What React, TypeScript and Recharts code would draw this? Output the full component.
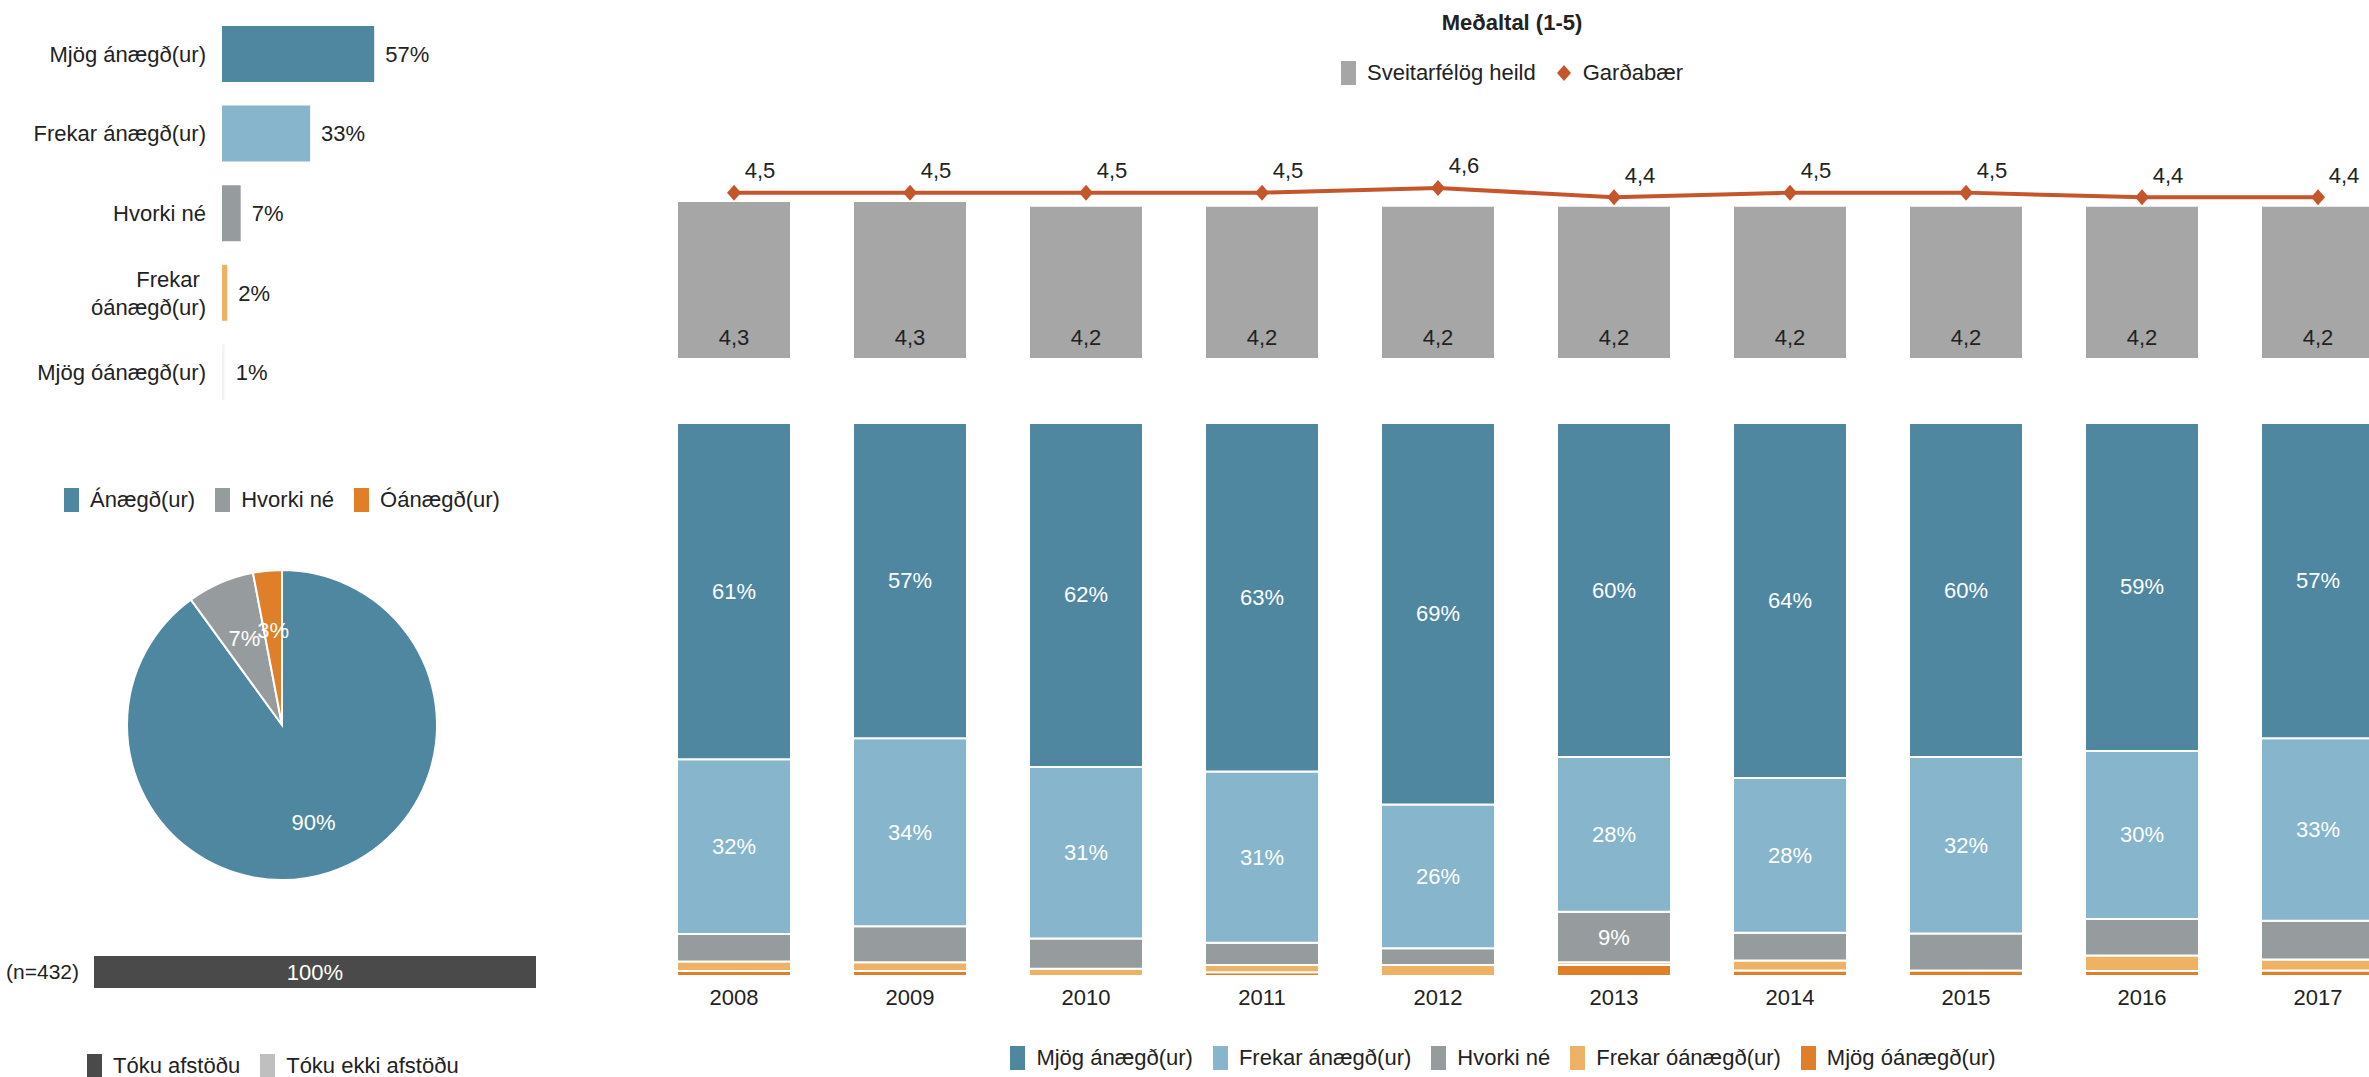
import React from 'react';
import {
  BarChart,
  Bar,
  ComposedChart,
  Line,
  PieChart,
  Pie,
  Cell,
  XAxis,
  YAxis,
  Legend,
  LabelList
} from 'recharts';

// ---- data ----
const satisfactionLevels = ['Mjög ánægð(ur)', 'Frekar ánægð(ur)', 'Hvorki né', 'Frekar óánægð(ur)', 'Mjög óánægð(ur)'];
const levelColors = ['#4F87A1', '#87B5CB', '#969C9E', '#EDB264', '#E07F2A'];
const currentShares = [57, 33, 7, 2, 1];
// the 1% bar is drawn almost white in the original
const currentColors = ['#4F87A1', '#87B5CB', '#969C9E', '#EDB264', '#F3F3F3'];

const pieGroups = ['Ánægð(ur)', 'Hvorki né', 'Óánægð(ur)'];
const pieShares = [90, 7, 3];
const pieColors = ['#4F87A1', '#969C9E', '#E07F2A'];

const sampleLabel = '(n=432)';
const responseGroups = ['Tóku afstöðu', 'Tóku ekki afstöðu'];
const responseShares = [100, 0];
const responseColors = ['#4A4A4A', '#BFBFBF'];

const years = ['2008', '2009', '2010', '2011', '2012', '2013', '2014', '2015', '2016', '2017'];
const municipalityAvg = [4.3, 4.3, 4.2, 4.2, 4.2, 4.2, 4.2, 4.2, 4.2, 4.2];
const gardabaerAvg = [4.5, 4.5, 4.5, 4.5, 4.6, 4.4, 4.5, 4.5, 4.4, 4.4];

const veryHappy = [60.8, 57, 62.2, 63, 69, 60.4, 64.2, 60.4, 59.3, 57];
const fairlyHappy = [31.6, 34, 31, 31, 26, 28, 28, 31.9, 30.4, 33];
const neutral = [5, 6.5, 5.5, 4, 3, 9.1, 5, 6.7, 6.6, 7];
const fairlyUnhappy = [1.7, 1.6, 1.3, 1.3, 2, 0.5, 1.8, 0, 2.8, 2];
const veryUnhappy = [0.9, 0.9, 0, 0.7, 0, 2, 1, 1, 0.9, 1];

const FONT = "'Liberation Sans', Arial, sans-serif";
const INK = '#222222';
const LINE_COLOR = '#C5562B';
const AVG_BAR = '#A6A6A6';

const fmtComma = (v: number) => v.toFixed(1).replace('.', ',');

type LegendItem = { label: string; color: string; shape?: 'rect' | 'diamond' };

function SwatchLegend({ items, justify = 'center' }: { items: LegendItem[]; justify?: string }) {
  return (
    <div
      style={{
        display: 'flex',
        justifyContent: justify,
        alignItems: 'center',
        gap: 20,
        fontSize: 22,
        color: INK,
        whiteSpace: 'nowrap',
        fontFamily: FONT
      }}
    >
      {items.map((it) => (
        <div key={it.label} style={{ display: 'flex', alignItems: 'center', gap: 11 }}>
          {it.shape === 'diamond' ? (
            <svg width={16} height={16} style={{ display: 'block' }}>
              <path d="M8 0 L15 8 L8 16 L1 8 Z" fill={it.color} />
            </svg>
          ) : (
            <span style={{ display: 'inline-block', width: 15, height: 24, background: it.color }} />
          )}
          <span>{it.label}</span>
        </div>
      ))}
    </div>
  );
}

// ---- top-left: current year ----
function LevelTick(props: any) {
  const { x, y, payload } = props;
  const label: string = payload.value;
  const lines = label.length > 16 ? [label.slice(0, label.indexOf(' ')) + '\u00A0', label.slice(label.indexOf(' ') + 1)] : [label];
  return (
    <text x={x} y={y} textAnchor="end" fontSize={22} fill={INK}>
      {lines.map((l, i) => (
        <tspan key={i} x={x} dy={i === 0 ? 8 - (lines.length - 1) * 14 : 28}>
          {l}
        </tspan>
      ))}
    </text>
  );
}

function CurrentYearChart() {
  const data = satisfactionLevels.map((name, i) => ({ name, share: currentShares[i] }));
  return (
    <BarChart width={560} height={430} data={data} layout="vertical" margin={{ top: 14, right: 71, bottom: 18, left: 0 }}>
      <XAxis type="number" domain={[0, 100]} hide />
      <YAxis
        type="category"
        dataKey="name"
        width={222}
        axisLine={false}
        tickLine={false}
        tickMargin={10}
        interval={0}
        tick={(p: any) => <LevelTick {...p} />}
      />
      <Bar dataKey="share" barSize={56} isAnimationActive={false}>
        {data.map((d, i) => (
          <Cell key={d.name} fill={currentColors[i]} />
        ))}
        <LabelList dataKey="share" position="right" offset={11} fill={INK} fontSize={22} formatter={(v: any) => `${v}%`} />
      </Bar>
    </BarChart>
  );
}

// ---- pie ----
const RADIAN = Math.PI / 180;
function renderPieLabel(props: any) {
  const { cx, cy, midAngle, outerRadius, value, percent } = props;
  const r = outerRadius * (percent > 0.5 ? 0.66 : 0.61);
  const x = cx + r * Math.cos(-midAngle * RADIAN);
  const y = cy + r * Math.sin(-midAngle * RADIAN);
  return (
    <text x={x} y={y} fill="#fff" fontSize={22} textAnchor="middle" dominantBaseline="central">
      {value}%
    </text>
  );
}

function GroupPie() {
  const data = pieGroups.map((name, i) => ({ name, value: pieShares[i] }));
  const items = pieGroups.map((label, i) => ({ label, color: pieColors[i] }));
  return (
    <PieChart width={560} height={480} margin={{ top: 0, right: 0, bottom: 0, left: 0 }}>
      <Legend
        verticalAlign="middle"
        align="center"
        layout="horizontal"
        wrapperStyle={{ top: 47, left: 0, width: 564 }}
        content={() => <SwatchLegend items={items} />}
      />
      <Pie
        data={data}
        dataKey="value"
        nameKey="name"
        cx={282}
        cy={285}
        outerRadius={155}
        startAngle={90}
        endAngle={-270}
        stroke="#fff"
        strokeWidth={2}
        label={renderPieLabel}
        labelLine={false}
        isAnimationActive={false}
      >
        {data.map((d, i) => (
          <Cell key={d.name} fill={pieColors[i]} />
        ))}
      </Pie>
    </PieChart>
  );
}

// ---- response bar ----
function ResponseBar() {
  const data = [{ name: sampleLabel, taken: responseShares[0], notTaken: responseShares[1] }];
  const items = responseGroups.map((label, i) => ({ label, color: responseColors[i] }));
  return (
    <BarChart width={560} height={157} data={data} layout="vertical" margin={{ top: 20, right: 24, bottom: 73, left: 0 }}>
      <XAxis type="number" domain={[0, 100]} hide />
      <YAxis
        type="category"
        dataKey="name"
        width={94}
        axisLine={false}
        tickLine={false}
        tickMargin={9}
        tick={{ fill: INK, fontSize: 21 }}
      />
      <Legend
        verticalAlign="middle"
        align="center"
        layout="horizontal"
        wrapperStyle={{ top: 133, left: 87, width: 460 }}
        content={() => <SwatchLegend items={items} justify="flex-start" />}
      />
      <Bar dataKey="taken" stackId="r" fill={responseColors[0]} barSize={32} isAnimationActive={false}>
        <LabelList
          dataKey="taken"
          content={(p: any) =>
            p.value > 0 ? (
              <text x={p.x + p.width / 2} y={p.y + p.height / 2} fill="#fff" fontSize={22} textAnchor="middle" dominantBaseline="central">
                {p.value}%
              </text>
            ) : null
          }
        />
      </Bar>
      <Bar dataKey="notTaken" stackId="r" fill={responseColors[1]} barSize={32} isAnimationActive={false} />
    </BarChart>
  );
}

// ---- averages ----
const Diamond = (props: any) => {
  const { cx, cy, index } = props;
  if (cx == null || cy == null) return <g key={`dm-${index}`} />;
  return <path key={`dm-${index}`} d={`M${cx},${cy - 8} L${cx + 7},${cy} L${cx},${cy + 8} L${cx - 7},${cy} Z`} fill={LINE_COLOR} />;
};

function AverageChart() {
  const data = years.map((year, i) => ({ year, heild: municipalityAvg[i], gardabaer: gardabaerAvg[i] }));
  const items: LegendItem[] = [
    { label: 'Sveitarfélög heild', color: AVG_BAR },
    { label: 'Garðabær', color: LINE_COLOR, shape: 'diamond' }
  ];
  return (
    <ComposedChart width={1860} height={380} data={data} margin={{ top: 169, right: 14, bottom: 22, left: 86 }}>
      <XAxis dataKey="year" hide />
      <YAxis domain={[1, 5]} hide allowDataOverflow />
      <Legend
        verticalAlign="middle"
        align="center"
        layout="horizontal"
        wrapperStyle={{ top: 60, left: 652, width: 600 }}
        content={() => <SwatchLegend items={items} />}
      />
      <Bar dataKey="heild" fill={AVG_BAR} barSize={112} isAnimationActive={false}>
        <LabelList
          dataKey="heild"
          content={(p: any) => (
            <text x={p.x + p.width / 2} y={p.y + p.height - 21} fill={INK} fontSize={22} textAnchor="middle" dominantBaseline="central">
              {fmtComma(Number(p.value))}
            </text>
          )}
        />
      </Bar>
      <Line dataKey="gardabaer" stroke={LINE_COLOR} strokeWidth={4} dot={Diamond} activeDot={false} isAnimationActive={false}>
        <LabelList
          dataKey="gardabaer"
          content={(p: any) => (
            <text x={p.x + 26} y={p.y - 22} fill={INK} fontSize={22} textAnchor="middle" dominantBaseline="central">
              {fmtComma(Number(p.value))}
            </text>
          )}
        />
      </Line>
    </ComposedChart>
  );
}

// ---- distribution per year ----
function SegmentLabel(p: any) {
  if (p.value == null || p.value < 8) return null;
  return (
    <text x={p.x + p.width / 2} y={p.y + p.height / 2} fill="#fff" fontSize={22} textAnchor="middle" dominantBaseline="central">
      {Math.round(p.value)}%
    </text>
  );
}

function DistributionChart() {
  const data = years.map((year, i) => ({
    year,
    veryHappy: veryHappy[i],
    fairlyHappy: fairlyHappy[i],
    neutral: neutral[i],
    fairlyUnhappy: fairlyUnhappy[i],
    veryUnhappy: veryUnhappy[i]
  }));
  const keys = ['veryHappy', 'fairlyHappy', 'neutral', 'fairlyUnhappy', 'veryUnhappy'];
  const items = satisfactionLevels.map((label, i) => ({ label, color: levelColors[i] }));
  const stackOrder = [4, 3, 2, 1, 0];
  return (
    <BarChart width={1860} height={677} data={data} margin={{ top: 23, right: 14, bottom: 71, left: 86 }}>
      <XAxis dataKey="year" axisLine={false} tickLine={false} tickMargin={7} interval={0} tick={{ fill: INK, fontSize: 22 }} />
      <YAxis domain={[0, 100]} hide allowDataOverflow />
      <Legend
        verticalAlign="middle"
        align="center"
        layout="horizontal"
        wrapperStyle={{ top: 645, left: 443, width: 1000 }}
        content={() => <SwatchLegend items={items} />}
      />
      {stackOrder.map((i) => (
        <Bar
          key={keys[i]}
          dataKey={keys[i]}
          stackId="s"
          fill={levelColors[i]}
          stroke="#fff"
          strokeWidth={2}
          barSize={114}
          isAnimationActive={false}
        >
          <LabelList dataKey={keys[i]} content={SegmentLabel} />
        </Bar>
      ))}
    </BarChart>
  );
}

export default function App() {
  return (
    <div
      style={{
        position: 'fixed',
        left: 0,
        top: 0,
        width: 2369,
        height: 1077,
        overflow: 'hidden',
        background: '#fff',
        fontFamily: FONT,
        color: INK
      }}
    >
      <div style={{ position: 'absolute', left: 0, top: 0 }}>
        <CurrentYearChart />
      </div>
      <div style={{ position: 'absolute', left: 0, top: 440 }}>
        <GroupPie />
      </div>
      <div style={{ position: 'absolute', left: 0, top: 920 }}>
        <ResponseBar />
      </div>
      <div
        style={{
          position: 'absolute',
          left: 1312,
          top: 10,
          width: 400,
          textAlign: 'center',
          fontWeight: 'bold',
          fontSize: 22,
          lineHeight: '26px'
        }}
      >
        Meðaltal (1-5)
      </div>
      <div style={{ position: 'absolute', left: 560, top: 0 }}>
        <AverageChart />
      </div>
      <div style={{ position: 'absolute', left: 560, top: 400 }}>
        <DistributionChart />
      </div>
    </div>
  );
}
